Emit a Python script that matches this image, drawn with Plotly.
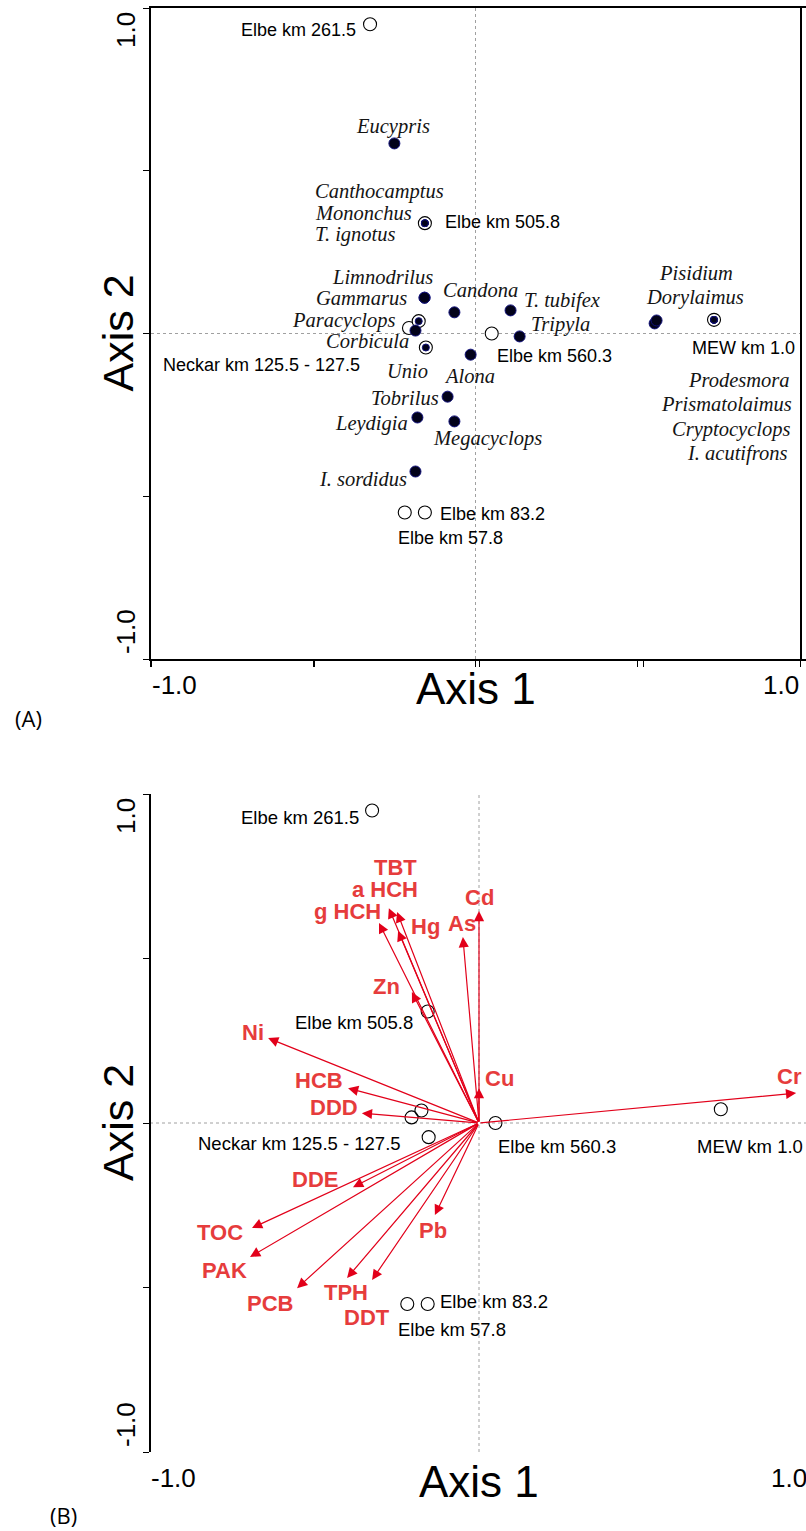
import plotly.graph_objects as go

W, H = 806, 1531

# ---- site scores (same ordination scores are used in both biplots) ----
site_names = ["Elbe km 261.5", "Elbe km 505.8", "Neckar km 125.5 - 127.5",
              "Neckar km 125.5 - 127.5", "Neckar km 125.5 - 127.5",
              "Elbe km 560.3", "MEW km 1.0", "Elbe km 83.2", "Elbe km 57.8"]
site_x = [-0.325, -0.156, -0.205, -0.175, -0.153, 0.050, 0.735, -0.156, -0.218]
site_y = [0.950, 0.339, 0.017, 0.038, -0.043, 0.000, 0.042, -0.550, -0.550]

# ---- species scores (panel A) ----
species_names = ["Eucypris", "Canthocamptus", "Mononchus", "T. ignotus",
                 "Limnodrilus", "Gammarus", "Candona", "T. tubifex", "Tripyla",
                 "Paracyclops", "Corbicula", "Unio", "Alona", "Tobrilus",
                 "Leydigia", "Megacyclops", "I. sordidus", "Pisidium",
                 "Dorylaimus", "Prodesmora", "Prismatolaimus", "Cryptocyclops",
                 "I. acutifrons"]
species_x = [-0.250, -0.156, -0.156, -0.156, -0.157, -0.157, -0.065, 0.108,
             0.136, -0.175, -0.185, -0.153, -0.015, -0.086, -0.179, -0.065,
             -0.185, 0.552, 0.558, 0.735, 0.735, 0.735, 0.735]
species_y = [0.584, 0.339, 0.339, 0.339, 0.110, 0.110, 0.065, 0.071, -0.009,
             0.038, 0.009, -0.043, -0.065, -0.194, -0.258, -0.270, -0.424,
             0.031, 0.040, 0.042, 0.042, 0.042, 0.042]

# ---- environmental variable vectors (panel B) ----
env_names = ["Cr", "Cd", "As", "Cu", "Hg", "TBT", "a HCH", "g HCH", "Zn", "Ni",
             "HCB", "DDD", "DDE", "TOC", "PAK", "PCB", "TPH", "DDT", "Pb"]
env_x = [0.964, 0.000, -0.049, 0.000, -0.246, -0.249, -0.274, -0.304, -0.204,
         -0.641, -0.398, -0.356, -0.383, -0.690, -0.696, -0.553, -0.401, -0.325,
         -0.134]
env_y = [0.091, 0.644, 0.565, 0.106, 0.584, 0.641, 0.653, 0.608, 0.398, 0.258,
         0.106, 0.030, -0.195, -0.319, -0.407, -0.502, -0.471, -0.477, -0.280]

# ---- label placement: (xanchor, dx px, dy px downwards) ----
species_lab = {
    "Eucypris": ("center", -1, -17), "Canthocamptus": ("left", -111, -32),
    "Mononchus": ("left", -111, -10), "T. ignotus": ("left", -111, 11),
    "Limnodrilus": ("right", 9, -21), "Gammarus": ("right", -17, 0),
    "Candona": ("left", -12, -22), "T. tubifex": ("left", 12, -10),
    "Tripyla": ("left", 10, -12), "Paracyclops": ("right", -23, -1),
    "Corbicula": ("right", -5, 10), "Unio": ("right", 3, 23),
    "Alona": ("left", -28, 21), "Tobrilus": ("right", -8, 1),
    "Leydigia": ("right", -8, 6), "Megacyclops": ("left", -22, 17),
    "I. sordidus": ("right", -7, 7), "Pisidium": ("left", 3, -50),
    "Dorylaimus": ("left", -12, -23), "Prodesmora": ("right", 77, 60),
    "Prismatolaimus": ("right", 79, 84), "Cryptocyclops": ("right", 77, 110),
    "I. acutifrons": ("right", 74, 134),
}
site_lab_a = {
    "Elbe km 261.5": ("right", -13, 6), "Elbe km 505.8": ("left", 19, -1),
    "Neckar km 125.5 - 127.5": ("right", -48, 37),
    "Elbe km 560.3": ("left", 4, 22), "MEW km 1.0": ("right", 82, 28),
    "Elbe km 83.2": ("left", 14, 1), "Elbe km 57.8": ("left", -8, 25),
}
site_lab_b = {
    "Elbe km 261.5": ("right", -12, 7), "Elbe km 505.8": ("right", -14, 11),
    "Neckar km 125.5 - 127.5": ("right", -10, 26),
    "Elbe km 560.3": ("left", 2, 23), "MEW km 1.0": ("right", 83, 37),
    "Elbe km 83.2": ("left", 11, -2), "Elbe km 57.8": ("left", -10, 26),
}
env_lab = {
    "Cr": (-7, -17), "Cd": (0, -14), "As": (-1, -14), "Cu": (20, -10),
    "Hg": (27, -4), "TBT": (-2, -45), "a HCH": (-4, -19), "g HCH": (-31, -11),
    "Zn": (-25, -6), "Ni": (-15, -6), "HCB": (-29, -8), "DDD": (-28, -6),
    "DDE": (-38, -8), "TOC": (-32, 5), "PAK": (-26, 14), "PCB": (-27, 15),
    "TPH": (-1, 15), "DDT": (-5, 38), "Pb": (-2, 15),
}

SANS = "Liberation Sans, Arial, sans-serif"
SERIF = "Liberation Serif, Times New Roman, serif"
ARROW = "#e2001a"
ENVTXT = "#e63c3c"


def paper(px, py):
    return px / W, 1 - py / H


# plot-area pixel boxes: (left, right, top, bottom)
box_a = (151, 800, 8, 659)
box_b = (150, 806, 794, 1452)
xr_b = [-1, -1 + (box_b[1] - box_b[0]) / ((box_b[3] - box_b[2]) / 2)]

fig = go.Figure()


def axis(box, horizontal, rng, mirror=True):
    l, r, t, b = box
    dom = [l / W, r / W] if horizontal else [1 - b / H, 1 - t / H]
    return dict(domain=dom, range=rng, showgrid=False, zeroline=False,
                showline=True, linecolor="black", linewidth=1.5, mirror=mirror,
                ticks="outside", ticklen=6, tickwidth=1.2, tickcolor="black",
                tickvals=[-1, -0.5, 0, 0.5, 1], showticklabels=False,
                fixedrange=True)


def site_trace(xa, ya, fill):
    return go.Scatter(x=site_x, y=site_y, xaxis=xa, yaxis=ya, mode="markers",
                      marker=dict(symbol="circle", size=13, color=fill,
                                  opacity=1,
                                  line=dict(color="black", width=1.1)),
                      hoverinfo="text", hovertext=site_names, showlegend=False)


# ---- panel A ----
fig.add_trace(site_trace("x", "y", "white"))
sizes = []
for sx, sy in zip(species_x, species_y):
    on_site = any(abs(sx - a) < 0.012 and abs(sy - b) < 0.012
                  for a, b in zip(site_x, site_y))
    sizes.append(7 if on_site else 11)
fig.add_trace(go.Scatter(x=species_x, y=species_y, xaxis="x", yaxis="y",
                         mode="markers",
                         marker=dict(symbol="circle", size=sizes, color="#02021a",
                                     opacity=1,
                                     line=dict(color="#10107a", width=1)),
                         hoverinfo="text", hovertext=species_names,
                         showlegend=False))

# ---- panel B ----
fig.add_trace(site_trace("x2", "y2", "rgba(255,255,255,0)"))

ann = []

# environmental arrows from the origin
for nm, ex, ey in zip(env_names, env_x, env_y):
    ann.append(dict(x=ex, y=ey, ax=0, ay=0, xref="x2", yref="y2", axref="x2",
                    ayref="y2", text="", showarrow=True, arrowhead=2,
                    arrowsize=1.7, arrowwidth=1.2, arrowcolor=ARROW))
    dx, dy = env_lab[nm]
    ann.append(dict(x=ex, y=ey, xref="x2", yref="y2", text=nm, showarrow=False,
                    xanchor="center", yanchor="middle", xshift=dx, yshift=-dy,
                    borderpad=0,
                    font=dict(family=SANS, size=22, color=ENVTXT,
                              weight="bold")))

# species labels
for nm, sx, sy in zip(species_names, species_x, species_y):
    xa, dx, dy = species_lab[nm]
    ann.append(dict(x=sx, y=sy, xref="x", yref="y", text=nm, showarrow=False,
                    xanchor=xa, yanchor="middle", xshift=dx, yshift=-dy,
                    borderpad=0,
                    font=dict(family=SERIF, size=20.5, color="#141414",
                              style="italic")))

# site labels (each name once per panel)
for labs, xr, yr, fs in ((site_lab_a, "x", "y", 18), (site_lab_b, "x2", "y2", 18.5)):
    done = set()
    for nm, sx, sy in zip(site_names, site_x, site_y):
        if nm in done:
            continue
        done.add(nm)
        xa, dx, dy = labs[nm]
        ann.append(dict(x=sx, y=sy, xref=xr, yref=yr, text=nm, showarrow=False,
                        xanchor=xa, yanchor="middle", xshift=dx, yshift=-dy,
                        borderpad=0,
                        font=dict(family=SANS, size=fs, color="black")))

# axis titles, end tick labels and panel letters
for box in (box_a, box_b):
    l, r, t, b = box
    cx = (l + r) / 2 if box is box_a else l + (b - t) / 2
    cy = (t + b) / 2
    px, py = paper(cx, b + 29)
    ann.append(dict(x=px, y=py, xref="paper", yref="paper", text="Axis 1",
                    showarrow=False, xanchor="center", yanchor="middle",
                    font=dict(family=SANS, size=44, color="black")))
    px, py = paper(118, cy)
    ann.append(dict(x=px, y=py, xref="paper", yref="paper", text="Axis 2",
                    showarrow=False, xanchor="center", yanchor="middle",
                    textangle=-90, font=dict(family=SANS, size=43, color="black")))
    xr_right = r if box is box_a else l + (b - t)
    for txt, xx, xa in (("-1.0", l - 1, "left"), ("1.0", xr_right + 1, "right")):
        px, py = paper(xx, b + 26)
        ann.append(dict(x=px, y=py, xref="paper", yref="paper", text=txt,
                        showarrow=False, xanchor=xa, yanchor="middle",
                        font=dict(family=SANS, size=26, color="black")))
    for txt, yy in (("1.0", t + 22), ("-1.0", b - 27)):
        px, py = paper(126, yy)
        ann.append(dict(x=px, y=py, xref="paper", yref="paper", text=txt,
                        showarrow=False, xanchor="center", yanchor="middle",
                        textangle=-90,
                        font=dict(family=SANS, size=26, color="black")))

for txt, cx, cy in (("(A)", 28, 718), ("(B)", 63, 1515)):
    px, py = paper(cx, cy)
    ann.append(dict(x=px, y=py, xref="paper", yref="paper", text=txt,
                    showarrow=False, xanchor="center", yanchor="middle",
                    font=dict(family="Open Sans, sans-serif", size=22,
                              color="black")))

# dotted zero lines
shapes = []
for xr, yr, rx in (("x", "y", [-1, 1]), ("x2", "y2", xr_b)):
    shapes.append(dict(type="line", xref=xr, yref=yr, x0=0, x1=0, y0=-1, y1=1,
                       line=dict(color="#a0a0a0", width=1, dash="dot"),
                       layer="below"))
    shapes.append(dict(type="line", xref=xr, yref=yr, x0=rx[0], x1=rx[1],
                       y0=0, y1=0,
                       line=dict(color="#a0a0a0", width=1, dash="dot"),
                       layer="below"))

fig.update_layout(
    width=W, height=H, autosize=False,
    margin=dict(l=0, r=0, t=0, b=0),
    paper_bgcolor="white", plot_bgcolor="white",
    xaxis=axis(box_a, True, [-1, 1]),
    yaxis=axis(box_a, False, [-1, 1]),
    xaxis2=axis(box_b, True, xr_b),
    yaxis2=axis(box_b, False, [-1, 1], mirror=False),
    annotations=ann, shapes=shapes,
)

fig.write_html("out.html")
